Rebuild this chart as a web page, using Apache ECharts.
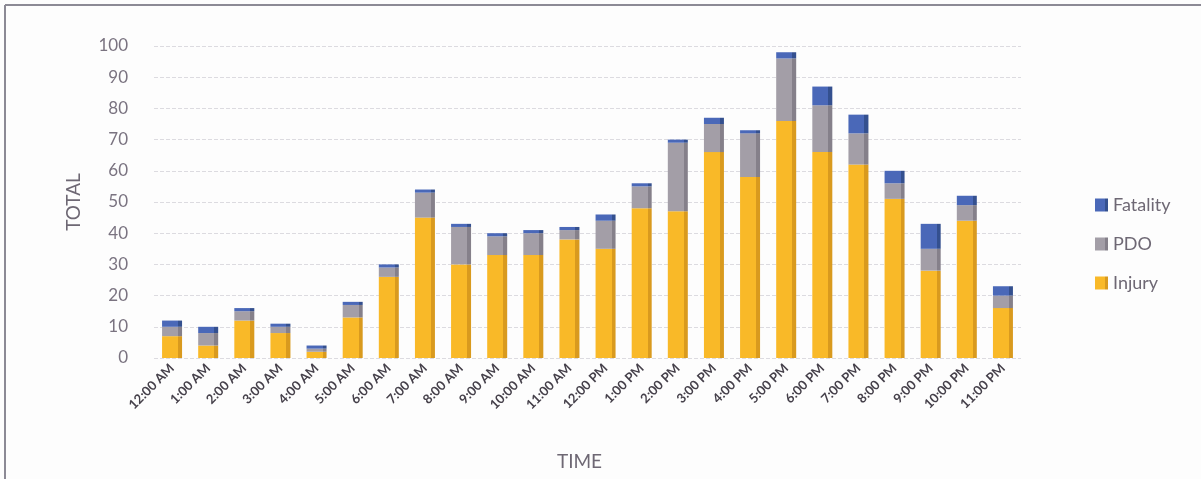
<!DOCTYPE html>
<html>
<head>
<meta charset="utf-8">
<script src="https://cdn.jsdelivr.net/npm/echarts@6/dist/echarts.min.js"></script>
<style>
html,body{margin:0;padding:0;background:#fdfdfd;}
#chart{width:1201px;height:479px;}
</style>
</head>
<body>
<div id="chart"></div>
<script>
const categories = ['12:00 AM','1:00 AM','2:00 AM','3:00 AM','4:00 AM','5:00 AM','6:00 AM','7:00 AM','8:00 AM','9:00 AM','10:00 AM','11:00 AM','12:00 PM','1:00 PM','2:00 PM','3:00 PM','4:00 PM','5:00 PM','6:00 PM','7:00 PM','8:00 PM','9:00 PM','10:00 PM','11:00 PM'];
const injury   = [7, 4, 12, 8, 2, 13, 26, 45, 30, 33, 33, 38, 35, 48, 47, 66, 58, 76, 66, 62, 51, 28, 44, 16];
const pdo      = [3, 4, 3, 2, 1, 4, 3, 8, 12, 6, 7, 3, 9, 7, 22, 9, 14, 20, 15, 10, 5, 7, 5, 4];
const fatality = [2, 2, 1, 1, 1, 1, 1, 1, 1, 1, 1, 1, 2, 1, 1, 2, 1, 2, 6, 6, 4, 8, 3, 3];
const yTicks = [0, 10, 20, 30, 40, 50, 60, 70, 80, 90, 100];

const FONT = 'Lato, "Open Sans", sans-serif';
function face(c, side){
  return new echarts.graphic.LinearGradient(0,0,1,0,[
    {offset:0,color:c},{offset:0.8,color:c},{offset:0.8,color:side},{offset:1,color:side}
  ]);
}
const chart = echarts.init(document.getElementById('chart'), null, {renderer:'canvas'});
chart.setOption({
  backgroundColor:'#fdfdfd',
  animation:false,
  color:['#F9B928','#A39EA7','#4A68B8'],
  graphic:[
    {type:'line',shape:{x1:5,y1:5,x2:1201,y2:5},style:{stroke:'#8c8a95',lineWidth:2}},
    {type:'line',shape:{x1:5,y1:5,x2:5,y2:479},style:{stroke:'#8c8a95',lineWidth:2}}
  ],
  grid:{left:154,right:180,top:46,bottom:121,containLabel:false},
  legend:{
    orient:'vertical', left:1090, top:191, itemGap:21,
    itemWidth:13, itemHeight:13, icon:'rect',
    data:['Fatality','PDO','Injury'],
    textStyle:{fontFamily:FONT,fontSize:18,color:'#6e6874'}
  },
  xAxis:{
    type:'category', data:categories,
    name:'TIME', nameLocation:'middle', nameGap:94,
    nameTextStyle:{fontFamily:FONT,fontSize:19,color:'#6e6874',padding:[0,16,0,0]},
    axisLine:{show:false}, axisTick:{show:false},
    axisLabel:{rotate:45,interval:0,fontFamily:FONT,fontSize:13,fontWeight:'bold',color:'#45404a',margin:8}
  },
  yAxis:{
    type:'value', min:yTicks[0], max:yTicks[yTicks.length-1], interval:10,
    name:'TOTAL', nameLocation:'middle', nameGap:71,
    nameTextStyle:{fontFamily:FONT,fontSize:19,color:'#6e6874'},
    axisLine:{show:false}, axisTick:{show:false},
    axisLabel:{fontFamily:FONT,fontSize:17,color:'#7a7380',margin:26},
    splitLine:{lineStyle:{color:'#dcdbe0',width:1,type:'dashed'}}
  },
  series:[
    {name:'Injury',type:'bar',stack:'t',data:injury,barWidth:20,
     itemStyle:{color:face('#F9B928','#D99A1E')}},
    {name:'PDO',type:'bar',stack:'t',data:pdo,barWidth:20,
     itemStyle:{color:face('#A39EA7','#85808A')}},
    {name:'Fatality',type:'bar',stack:'t',data:fatality,barWidth:20,
     itemStyle:{color:face('#4A68B8','#34508F')}}
  ]
});
</script>
</body>
</html>
